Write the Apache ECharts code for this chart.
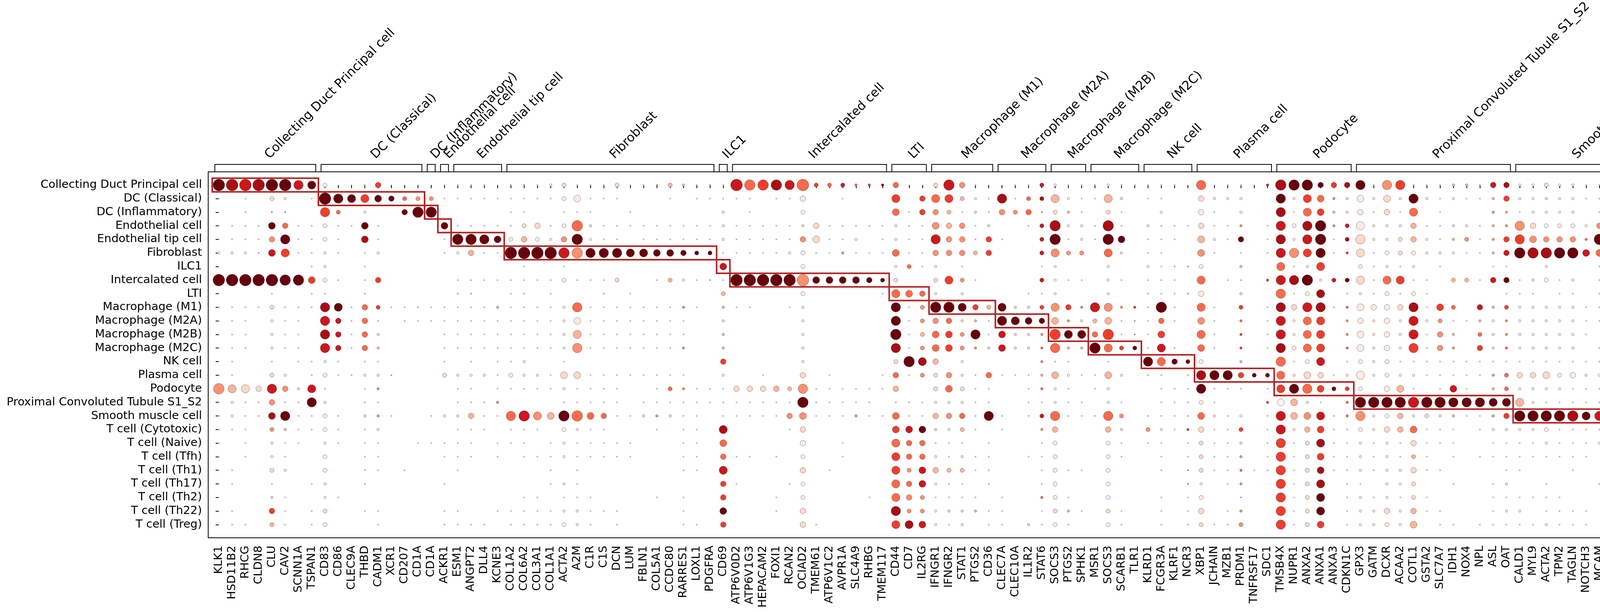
<!DOCTYPE html>
<html><head><meta charset="utf-8">
<script src="https://cdn.jsdelivr.net/npm/echarts@6/dist/echarts.min.js"></script>
<style>html,body{margin:0;padding:0;background:#fff;overflow:hidden}#c{width:5699px;height:1567px}</style>
</head><body><div id="c"></div>
<script>
const cellTypes = ['Collecting Duct Principal cell','DC (Classical)','DC (Inflammatory)','Endothelial cell','Endothelial tip cell','Fibroblast','ILC1','Intercalated cell','LTI','Macrophage (M1)','Macrophage (M2A)','Macrophage (M2B)','Macrophage (M2C)','NK cell','Plasma cell','Podocyte','Proximal Convoluted Tubule S1_S2','Smooth muscle cell','T cell (Cytotoxic)','T cell (Naive)','T cell (Tfh)','T cell (Th1)','T cell (Th17)','T cell (Th2)','T cell (Th22)','T cell (Treg)'];
const cellCounts = [177,139,47,1161,3603,148,41,1396,131,2103,448,1087,695,126,173,125,549,3513,521,280,174,48,51,80,86,112];
const genes = ['KLK1','HSD11B2','RHCG','CLDN8','CLU','CAV2','SCNN1A','TSPAN1',
'CD83','CD86','CLEC9A','THBD','CADM1','XCR1','CD207','CD1A',
'CD1A','ACKR1','ESM1','ANGPT2','DLL4','KCNE3',
'COL1A2','COL6A2','COL3A1','COL1A1','ACTA2','A2M','C1R','C1S','DCN','LUM','FBLN1','COL5A1','CCDC80','RARRES1','LOXL1','PDGFRA',
'CD69',
'ATP6V0D2','ATP6V1G3','HEPACAM2','FOXI1','RCAN2','OCIAD2','TMEM61','ATP6V1C2','AVPR1A','SLC4A9','RHBG','TMEM117',
'CD44','CD7','IL2RG',
'IFNGR1','IFNGR2','STAT1','PTGS2','CD36',
'CLEC7A','CLEC10A','IL1R2','STAT6',
'SOCS3','PTGS2','SPHK1',
'MSR1','SOCS3','SCARB1','TLR1',
'KLRD1','FCGR3A','KLRF1','NCR3',
'XBP1','JCHAIN','MZB1','PRDM1','TNFRSF17','SDC1',
'TMSB4X','NUPR1','ANXA2','ANXA1','ANXA3','CDKN1C',
'GPX3','GATM','DCXR','ACAA2','COTL1','GSTA2','SLC7A7','IDH1','NOX4','NPL','ASL','OAT',
'CALD1','MYL9','ACTA2','TPM2','TAGLN','NOTCH3','MCAM','HEXIM1','MYH11',
'ZFP36','GZMK','CD8A','CD8B','GZMB','LAG3','IFNG',
'SELL',
'TNFRSF4','MAF','PDCD1','CD40LG',
'STAT4','IFNGR1','IL27RA','CXCR3','STAT1','IFNGR2','IL18R1',
'RORA','BATF','IL21R',
'GATA3',
'BATF',
'LGALS1','TNFRSF4','TNFRSF18','TGFB1','CTLA4','ITGAE','FOXP3','CD5','SELL'];
// number of marker genes per group (groups = cellTypes, same order)
const groupSizes = [8,8,1,1,4,16,1,12,3,5,4,3,4,4,6,6,12,9,7,1,4,7,3,1,1,9];

// Fraction of cells in group expressing each gene, one char per gene (4 blocks of 35 genes):
// '-' = no dot, '0' = about 4 %, '1'..'9' = about 10 % .. 90 %
const fractionCodes = [
 ["88888865"+"2--03-----"+"000-000120"+"002-002","1000877768"+"2221113--2"+"730--00210"+"00100","000-6-00-1"+"7773336066"+"0001103311"+"21100","207---00-0"+"-0--020-26"+"020-507--0"+"-1--0"],
 ["0-0-21-0"+"8655432220"+"0000000024"+"000---0","-00000-003"+"--0---5-35"+"5210602251"+"0051-","00--3111--"+"6154114141"+"6101001311"+"11100","207-000002"+"110-041125"+"1010017103"+"01-03"],
 ["--0-00--"+"62-1--377-"+"----00--00"+"0--0---","---1-0---2"+"------4033"+"2010323021"+"0-20-","-1--30-1--"+"6054113030"+"5-0---1101"+"111-0","0-7-000---"+"00--130013"+"0001-07002"+"03---"],
 ["00004300"+"20040----4"+"0000023027"+"1000000","0001000001"+"3000001004"+"3301--0271"+"1070-","10003001-0"+"6267125111"+"3001101163"+"22213","4070-00100"+"12--030-23"+"020-007102"+"-2000"],
 ["00003600"+"20-40----0"+"7764232137"+"100-000","0001000003"+"4001-01006"+"33030--270"+"1074-","000-4103-0"+"6167026112"+"3101201364"+"33317","6170-0-00-"+"054--62-33"+"-3000065-6"+"-3-00"],
 ["11104500"+"10-01----0"+"1300888877"+"6665544","3220000012"+"0010004003"+"3323---252"+"2-51-","00--40-0-0"+"6656015022"+"2111001377"+"77744","2170-00---"+"0-2--30-33"+"-200007003"+"03---"],
 ["-------0"+"1--0------"+"-----0--0-"+"-------","---4-----2"+"------1201"+"-0-----01-"+"--1--","10002--1--"+"5015--2010"+"1-0---00--"+"1---0","1-50-01010"+"010021010-"+"0310113002"+"00-11"],
 ["88888774"+"20-03-----"+"0000000020"+"002--02","1000888888"+"4444322--2"+"520----210"+"0-10-","000-5-00-1"+"6671225055"+"00-2203301"+"201-0","206----000"+"0---020-24"+"-20-5-6-01"+"-1-0-"],
 ["----0--0"+"0--0------"+"00--00-0--"+"-0-0---","---2-----2"+"-----05431"+"-1----001-"+"--1--","00003--1--"+"6025-01020"+"20-----000"+"-00-0","1-61100011"+"111121111-"+"0210113101"+"01-01"],
 ["00002000"+"6503200000"+"0001000016"+"0000000","10-100--01"+"------6027"+"7532511253"+"16511","070-50-2-0"+"6366014333"+"6042-31211"+"11100","2060-00011"+"30--071-57"+"0000016003"+"02--1"],
 ["000-100-"+"63030-0000"+"0000000014"+"0000000","0--1-----1"+"------6023"+"3110654341"+"12400","030-40-1-0"+"6155-13131"+"6120011111"+"11100","1060000011"+"2---141014"+"1000006003"+"02-01"],
 ["000-100-"+"63031----0"+"0000000015"+"0000000","0--1-----1"+"------7024"+"4260411175"+"53700","04--50-1-0"+"6155-14131"+"6031-21111"+"1110-","2060-00011"+"2---131-23"+"0000006103"+"02-01"],
 ["000-100-"+"63031----0"+"0000000016"+"0000000","1--1-----1"+"------6024"+"4211411161"+"17522","050-40-1-0"+"6255-14131"+"6031-31111"+"111-0","2060-0-011"+"2---141-23"+"0000006003"+"02--1"],
 ["-0--0-00"+"10-00----0"+"-0-001--0-"+"-------","---3-----1"+"------2753"+"-1-----100"+"--0--","65322--1--"+"6025-02120"+"0000000000"+"00000","1050106021"+"11--22101-"+"0311115112"+"-1-01"],
 ["00--21-0"+"200110---2"+"1110211044"+"0000000","0--1--0--3"+"-0---03022"+"3103000141"+"0041-","00-0666322"+"5143015121"+"1000001233"+"42311","206-0010-0"+"11-0010-13"+"0100-06122"+"02--0"],
 ["75536315"+"0--01-----"+"00-0000010"+"000--02","1000333326"+"0000003--2"+"4200--0110"+"-01--","-0006000-0"+"5664222-34"+"0-040-1211"+"11000","2-6------0"+"----010-24"+"-4--4-6-1-"+"-1--0"],
 ["01003006"+"1--00-----"+"0001----00"+"000-000","0000000007"+"00000-0001"+"1100--0010"+"0-10-","-00020---1"+"4410-17777"+"7776665551"+"00000","204-0000--"+"05--010-11"+"0200001000"+"-3---"],
 ["01004600"+"20-110--01"+"1300675477"+"4300111","00-0000034"+"0001004003"+"33060-0260"+"0062-","00004101-0"+"6445016123"+"1211001377"+"77756","3360000000"+"130-020-33"+"-200006002"+"03---"],
 ["000-2100"+"20-01-----"+"000-000-21"+"00---0-","00-5----03"+"------4441"+"120-0--13-"+"--31-","21013002-0"+"6134002133"+"4000-01111"+"20000","2065544320"+"1210221220"+"0231235002"+"12-10"],
 ["0-0-100-"+"10-00--000"+"00-000-010"+"0000---","00-4-----3"+"--0---5330"+"00-0---02-"+"--20-","00-02001-0"+"6025001010"+"3000--0000"+"10001","1051000012"+"1001200100"+"0220124111"+"00-13"],
 ["0-0-10--"+"2--00----0"+"00-0-00010"+"0000---","00-300-0-2"+"--0---5331"+"0100--002-"+"--20-","-0-02001-0"+"6024001010"+"20-0-00000"+"0000-","1051000000"+"3322200000"+"0110113301"+"01010"],
 ["-0--21--"+"2--00-0---"+"0------0-0"+"-------","00-5-----3"+"-0----5243"+"2200---020"+"0-2--","-0-0200100"+"6024001011"+"300----00-"+"--0--","1061010000"+"0000432222"+"1110013111"+"01000"],
 ["-0--0--0"+"1--0-----0"+"-------010"+"-------","---30---02"+"------5341"+"00-0---02-"+"--2--","---01-01--"+"6025-00-11"+"2--0--01--"+"0---0","0-50-01121"+"1021010000"+"0642144221"+"21010"],
 ["----10--"+"10--------"+"-----00-00"+"0----0-","0--3---0-2"+"----0-5320"+"000-0--120"+"--2--","-0-02--0--"+"6025-01010"+"20----0000"+"00---","1051010000"+"1000101000"+"1120324111"+"01010"],
 ["-0--30-0"+"2--00----0"+"0--0000011"+"000----","0--4---0-3"+"------6221"+"11100--021"+"0-20-","-0-03-01--"+"6025-01131"+"300---011-"+"0000-","2050000000"+"1111211022"+"1060164111"+"11000"],
 ["-00-20-0"+"2---0----0"+"000-000021"+"0-0----","00-3-----3"+"0-----5541"+"01-00-1020"+"--20-","-0-02002--"+"6024-01121"+"4-00-00000"+"1000-","1050000102"+"5200211120"+"0230137444"+"33332"]
];
// Mean expression in group, one char per gene: 0 (none) .. 9 (highest, 1.0)
const expressionCodes = [
 ["98789979"+"1002600000"+"1110151121"+"1120153","3131756875"+"6575695002"+"7410011711"+"11111","1110501107"+"8999689246"+"1113317811"+"21111","3950001101"+"0100121047"+"1410959001"+"01001"],
 ["10102101"+"9996995441"+"1111111111"+"1110001","0111110111"+"0010006065"+"6311815831"+"11320","1100211100"+"9165421121"+"9111113611"+"21111","3960111119"+"1110152436"+"6115017115"+"12019"],
 ["00105500"+"6501009990"+"0000110011"+"1001000","0001010001"+"0000005164"+"3121445523"+"10210","0100110100"+"8156321121"+"5010004311"+"11101","1060111000"+"1100141113"+"1116017114"+"15000"],
 ["11119511"+"1119100009"+"1111122115"+"2111111","1111111112"+"2111111114"+"3412001781"+"11810","1111211401"+"7189471111"+"3112113442"+"11114","8180111111"+"2600141033"+"1310114216"+"06111"],
 ["11114911"+"1108100001"+"9999131149"+"1110111","1111111114"+"2111011117"+"4416100791"+"11990","1110311901"+"8179182112"+"3113404664"+"44459","9491111111"+"1990077144"+"0411116909"+"09011"],
 ["11137611"+"1101100001"+"1311999974"+"9999999","9991111111"+"1141115114"+"4436000744"+"40520","1100410101"+"7469162212"+"1111113798"+"89975","4581111000"+"1050041055"+"0311119116"+"16000"],
 ["00000001"+"1001000000"+"0000010010"+"0000000","0007000001"+"0000001511"+"0100000110"+"00100","1134100300"+"5116001111"+"1010001100"+"10001","1041011145"+"1411611410"+"1411111114"+"11054"],
 ["99999996"+"1101600000"+"1111111111"+"1120013","1131999994"+"9999992002"+"6410000711"+"10110","1110501106"+"7891792256"+"1103317911"+"11101","3140000111"+"1000121036"+"0310804012"+"02010"],
 ["00001001"+"1001000000"+"3300110100"+"0300000","0003000001"+"0000015551"+"0100001110"+"00100","1114100200"+"5118011111"+"1100000111"+"01101","1052111153"+"4435614210"+"1311111113"+"11045"],
 ["11112111"+"8915611111"+"1113111115"+"1111111","4013110011"+"0000009049"+"9963922646"+"47446","1910510601"+"8278151112"+"8165073611"+"11111","3171111163"+"6100194099"+"1111117117"+"15006"],
 ["11101110"+"7715201111"+"1111111111"+"1111111","1002000001"+"0000009044"+"5231999934"+"23314","1510410501"+"7156041111"+"7141131411"+"11111","3161111152"+"4000254125"+"4111116115"+"14015"],
 ["11101110"+"8715200001"+"1111111113"+"1111111","1003000001"+"0000009035"+"6491722469"+"95614","1600510601"+"7156041111"+"7143152411"+"11110","4171011152"+"5000253046"+"1111116116"+"14015"],
 ["11101110"+"7715300001"+"1111111114"+"1111111","4003000001"+"0000008045"+"6442722553"+"39569","1710510601"+"8156051111"+"6144162511"+"11101","4171010152"+"7000263045"+"1111116116"+"14004"],
 ["01001011"+"1101100001"+"0101110010"+"0000000","0006000001"+"0000002983"+"0100000411"+"00100","9599100300"+"5117011111"+"1111111111"+"11111","1130119195"+"2300635110"+"1527323214"+"02015"],
 ["31002101"+"1111130002"+"1111111122"+"1111111","1101001002"+"0100015142"+"4115111331"+"11310","1101899699"+"5122111111"+"1111114522"+"21111","3161111101"+"2101111014"+"1111014144"+"15001"],
 ["43227427"+"1001400000"+"1101111111"+"1110015","4111222334"+"1111113002"+"5211001511"+"01100","0111911101"+"6956961013"+"1017103511"+"11111","3060000001"+"0000111045"+"0500707010"+"01001"],
 ["11114119"+"1001100000"+"1114000011"+"1110111","1111111119"+"1111101111"+"1111001111"+"10110","0111110006"+"0311059999"+"7999999931"+"11111","3101111100"+"1900111011"+"1211111111"+"07000"],
 ["11118911"+"1102410011"+"1311574395"+"5511242","1101111144"+"1114115113"+"4519101751"+"11540","1111511101"+"7347154113"+"1223114699"+"99897","6981111111"+"2810131044"+"0311118115"+"15000"],
 ["11104311"+"1101100000"+"1110111011"+"1100010","1108000012"+"0000006792"+"1310100430"+"00320","4116211601"+"7136111123"+"5111011211"+"11111","3159995971"+"1580525731"+"1367463115"+"65054"],
 ["10101110"+"1101100111"+"1101110111"+"1111000","1105000001"+"0010005551"+"1101000110"+"00110","1101211201"+"6128111111"+"2111001111"+"11111","1041111119"+"1115511111"+"1321131111"+"11059"],
 ["10101100"+"1001100001"+"1101011111"+"1111000","1105110101"+"0010006551"+"1111001110"+"00110","0101211401"+"6126111111"+"3101011111"+"11110","1041111111"+"6799611111"+"1231241612"+"11141"],
 ["01002100"+"1001101000"+"1000000101"+"0000000","1107000002"+"0100006473"+"3311000110"+"10100","0105211511"+"6128111111"+"2110000110"+"00100","1042121111"+"1111939943"+"9210024112"+"11121"],
 ["01001001"+"1001000001"+"0000000111"+"0000000","0006100011"+"0000005571"+"1101000110"+"00100","0005101400"+"6028011011"+"2001001200"+"10001","1051112445"+"5162141111"+"1989172443"+"62151"],
 ["00002100"+"1100000000"+"0000011011"+"1000010","1006000101"+"0000105441"+"1110100511"+"00100","0101100300"+"6029011111"+"2100001111"+"11000","1041111111"+"3111111111"+"4141541111"+"11131"],
 ["01006101"+"2001100001"+"1001111111"+"1110000","1009000102"+"0000008441"+"2231100123"+"10210","0101201400"+"6029011121"+"3110001110"+"11110","3151111111"+"3455411133"+"6191192223"+"22111"],
 ["01103101"+"1000100001"+"1110111111"+"1010000","1106000002"+"1000006871"+"1101102111"+"00110","0101211400"+"6126011111"+"3011011111"+"11110","1131111218"+"7411414520"+"1370273796"+"97998"]
];
const legendFractions = [20, 40, 60, 80];
const colorbarTicks = [0, 0.5, 1];

// ---------- decoding of the read codes ----------
const FRACTION_OF = {'0': 0.04, '1': 0.1, '2': 0.2, '3': 0.3, '4': 0.4, '5': 0.5, '6': 0.6, '7': 0.7, '8': 0.8, '9': 0.9};
const EXPRESSION_OF = [0, 0.06, 0.15, 0.27, 0.38, 0.5, 0.62, 0.75, 0.87, 1.0];
const SEG = 35;
function rowString(segs, pad) { return segs.map(s => (s + pad.repeat(SEG)).slice(0, SEG)).join(''); }

const dots = [];
cellTypes.forEach((ct, r) => {
  const fs = rowString(fractionCodes[r], '-');
  const es = rowString(expressionCodes[r], '0');
  for (let g = 0; g < genes.length; g++) {
    const f = fs[g];
    if (f === '-' || !(f in FRACTION_OF)) continue;
    dots.push([g, r, FRACTION_OF[f], EXPRESSION_OF[+es[g]] || 0]);
  }
});
const groups = [];
{ let s = 0; groupSizes.forEach((n, i) => { groups.push([s, s + n - 1, i]); s += n; }); }

// matplotlib "Reds"
const REDS = ['#fff5f0','#fee0d2','#fcbba1','#fc9272','#fb6a4a','#ef3b2c','#cb181d','#a50f15','#67000d'];
const rgbOf = h => [1, 3, 5].map(i => parseInt(h.slice(i, i + 2), 16));
function reds(v) {
  v = Math.max(0, Math.min(1, v));
  const p = v * 8, i = Math.min(7, Math.floor(p)), t = p - i;
  const a = rgbOf(REDS[i]), b = rgbOf(REDS[i + 1]);
  return 'rgb(' + a.map((x, k) => Math.round(x + (b[k] - x) * t)).join(',') + ')';
}
const dotPx = f => 35.5 * Math.pow(f, 0.75);

// ---------- layout ----------
const FONT = 'DejaVu Sans';
const P = { left: 533, top: 440, width: 4778, height: 937 };
const X0 = -0.8, X1 = genes.length - 1 + 0.8;
const Y0 = -0.97, Y1 = cellTypes.length - 1 + 0.97;
const rowPx = P.height / (Y1 - Y0);
const geneIdx = genes.map((g, i) => i);
const rowIdx = cellTypes.map((c, i) => i);
const barMax = Math.sqrt(Math.max(...cellCounts)) * 1.4;

const chart = echarts.init(document.getElementById('c'), null, { renderer: 'canvas' });
const option = {
  animation: false,
  backgroundColor: '#fff',
  textStyle: { fontFamily: FONT, color: '#000' },
  grid: [
    { left: P.left, top: P.top, width: P.width, height: P.height, show: true, borderColor: '#000', borderWidth: 2, backgroundColor: 'rgba(0,0,0,0)' },
    { left: P.left + P.width, top: P.top + (0 - Y0) * rowPx - rowPx / 2, width: 131, height: rowPx * cellTypes.length },
    { left: 5488.6, top: 790, width: 175.2, height: 85 },
    { left: 5497.6, top: 1312.6, width: 174, height: 66 }
  ],
  xAxis: [
    { gridIndex: 0, type: 'value', min: X0, max: X1, position: 'bottom',
      axisLine: { show: false }, splitLine: { show: false },
      axisTick: { show: true, customValues: geneIdx, length: 8, lineStyle: { color: '#000', width: 2 } },
      axisLabel: { show: true, customValues: geneIdx, rotate: 90, margin: 20, fontSize: 29, color: '#000', fontFamily: FONT, formatter: v => genes[Math.round(v)] } },
    { gridIndex: 1, type: 'value', min: 0, max: barMax, show: false },
    { gridIndex: 2, type: 'value', min: 10, max: 90, axisLine: { show: false }, splitLine: { show: false },
      axisTick: { show: true, customValues: legendFractions, length: 6, lineStyle: { color: '#000', width: 1.5 } },
      axisLabel: { show: true, customValues: legendFractions, fontSize: 17, color: '#000', margin: 10, fontFamily: FONT } },
    { gridIndex: 3, type: 'value', min: 0, max: 1, axisLine: { show: false }, splitLine: { show: false },
      axisTick: { show: true, customValues: colorbarTicks, length: 6, lineStyle: { color: '#000', width: 1.5 } },
      axisLabel: { show: true, customValues: colorbarTicks, fontSize: 17, color: '#000', margin: 12, fontFamily: FONT, formatter: v => Number(v).toFixed(1) } }
  ],
  yAxis: [
    { gridIndex: 0, type: 'value', inverse: true, min: Y0, max: Y1,
      axisLine: { show: false }, splitLine: { show: false },
      axisTick: { show: true, customValues: rowIdx, length: 8, lineStyle: { color: '#000', width: 2 } },
      axisLabel: { show: true, customValues: rowIdx, margin: 16, fontSize: 29, color: '#000', fontFamily: FONT, formatter: v => cellTypes[Math.round(v)] } },
    { gridIndex: 1, type: 'category', data: cellTypes, inverse: true, show: false },
    { gridIndex: 2, type: 'value', min: 0, max: 1, show: false },
    { gridIndex: 3, type: 'value', min: 0, max: 1, show: false }
  ],
  graphic: [
    { type: 'text', x: 5584, y: 732, style: { text: 'Fraction of cells\nin group (%)', font: '17px "DejaVu Sans"', fill: '#000', align: 'center', verticalAlign: 'middle', lineHeight: 20 } },
    { type: 'text', x: 5584, y: 1284, style: { text: 'Mean expression\nin group', font: '17px "DejaVu Sans"', fill: '#000', align: 'center', verticalAlign: 'middle', lineHeight: 20 } }
  ],
  series: [
    { type: 'scatter', xAxisIndex: 0, yAxisIndex: 0, data: dots, progressive: 0, z: 2,
      symbolSize: v => dotPx(v[2]),
      itemStyle: { color: p => reds(p.data[3]), borderColor: '#3a3a3a', borderWidth: 0.6, opacity: 1 } },
    { type: 'custom', xAxisIndex: 0, yAxisIndex: 0, data: groups, clip: false, z: 5,
      encode: { x: [0, 1], y: 2 },
      renderItem: (params, api) => {
        const s = api.value(0), e = api.value(1), r = api.value(2);
        const a = api.coord([s - 0.5, r - 0.5]), b = api.coord([e + 0.5, r + 0.5]);
        return { type: 'rect', shape: { x: a[0], y: a[1], width: b[0] - a[0], height: b[1] - a[1] },
                 style: { fill: null, stroke: '#b22222', lineWidth: 4 } };
      } },
    { type: 'custom', xAxisIndex: 0, yAxisIndex: 0, data: groups, clip: false, z: 5,
      encode: { x: [0, 1] },
      renderItem: (params, api) => {
        const s = api.value(0), e = api.value(1), i = api.value(2);
        const yTop = api.coord([0, Y0])[1];
        const xa = api.coord([s - 0.3, 0])[0], xb = api.coord([e + 0.3, 0])[0];
        const yb = yTop - 19;
        return { type: 'group', children: [
          { type: 'polyline', shape: { points: [[xa, yTop], [xa, yb], [xb, yb], [xb, yTop]] }, style: { fill: null, stroke: '#000', lineWidth: 2 } },
          { type: 'text', x: (xa + xb) / 2 + 16, y: yb - 8, rotation: Math.PI / 4,
            style: { text: cellTypes[i], font: '32px "DejaVu Sans"', fill: '#000', align: 'left', verticalAlign: 'bottom' } }
        ] };
      } },
    { type: 'bar', xAxisIndex: 1, yAxisIndex: 1, data: cellCounts.map(c => Math.sqrt(c)), barWidth: 21,
      itemStyle: { color: '#b22222', borderColor: '#000', borderWidth: 2 },
      label: { show: true, position: 'right', distance: 8, fontSize: 29, color: '#000', fontFamily: FONT, formatter: p => String(cellCounts[p.dataIndex]) } },
    { type: 'scatter', xAxisIndex: 2, yAxisIndex: 2, data: legendFractions.map(f => [f, 0.79]),
      symbolSize: v => dotPx(v[0] / 100), itemStyle: { color: '#808080', borderColor: '#6a6a6a', borderWidth: 0.6 } },
    { type: 'custom', xAxisIndex: 3, yAxisIndex: 3, data: [[0, 0]], clip: false,
      renderItem: (params, api) => {
        const a = api.coord([0, 1]), b = api.coord([1, 0]);
        return { type: 'rect', shape: { x: a[0], y: a[1], width: b[0] - a[0], height: b[1] - a[1] },
                 style: { fill: new echarts.graphic.LinearGradient(0, 0, 1, 0, REDS.map((c, k) => ({ offset: k / 8, color: c }))), stroke: '#000', lineWidth: 1.5 } };
      } }
  ]
};
chart.setOption(option);
</script></body></html>
